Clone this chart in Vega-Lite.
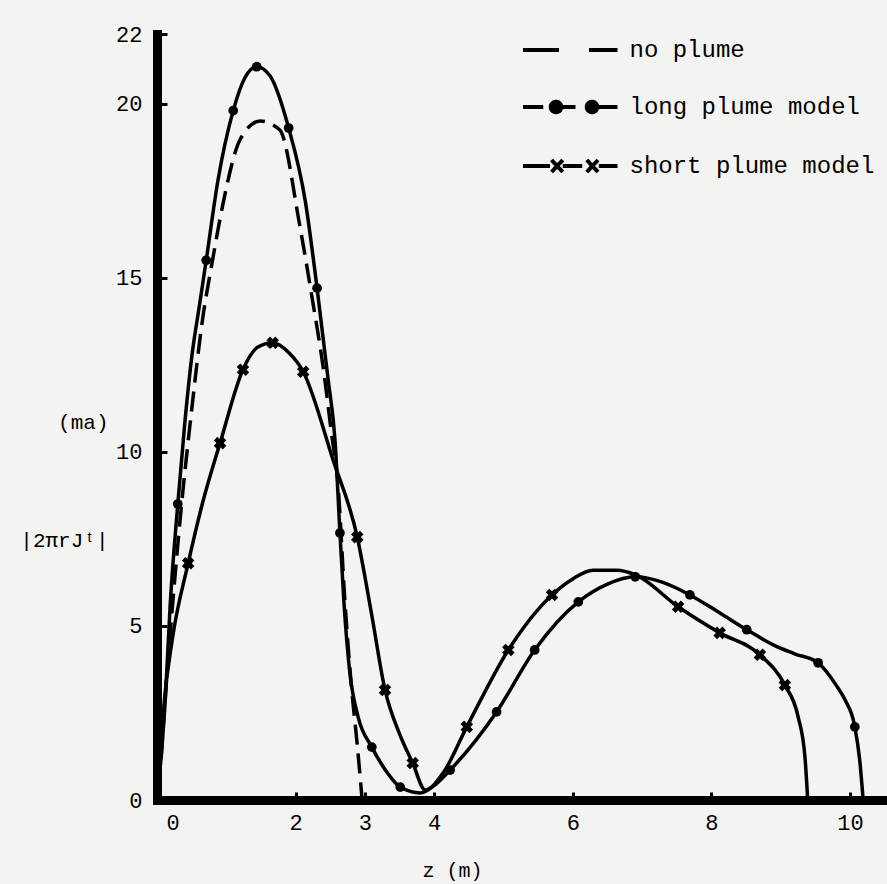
{
  "$schema": "https://vega.github.io/schema/vega-lite/v6.json",
  "width": 730,
  "height": 766,
  "autosize": {"type": "none"},
  "padding": {"left": 157, "top": 34, "right": 0, "bottom": 84},
  "background": "#f3f3f1",
  "config": {"view": {"stroke": null}, "font": "Liberation Mono"},
  "datasets": {
    "curves": [
      {"series": "no plume", "z": 0.06, "v": 1.2},
      {"series": "no plume", "z": 0.14, "v": 3.5},
      {"series": "no plume", "z": 0.25, "v": 6.2},
      {"series": "no plume", "z": 0.36, "v": 8.6},
      {"series": "no plume", "z": 0.5, "v": 11.2},
      {"series": "no plume", "z": 0.65, "v": 13.7},
      {"series": "no plume", "z": 0.81, "v": 15.6},
      {"series": "no plume", "z": 0.95, "v": 17.1},
      {"series": "no plume", "z": 1.2, "v": 18.97},
      {"series": "no plume", "z": 1.49, "v": 19.5},
      {"series": "no plume", "z": 1.77, "v": 19.25},
      {"series": "no plume", "z": 2.06, "v": 16.5},
      {"series": "no plume", "z": 2.24, "v": 14.4},
      {"series": "no plume", "z": 2.4, "v": 12.4},
      {"series": "no plume", "z": 2.52, "v": 10.5},
      {"series": "no plume", "z": 2.61, "v": 9.1},
      {"series": "no plume", "z": 2.71, "v": 5.75},
      {"series": "no plume", "z": 2.81, "v": 3.16},
      {"series": "no plume", "z": 2.89, "v": 1.58},
      {"series": "no plume", "z": 2.96, "v": 0},

      {"series": "long plume model", "z": 0.05, "v": 1.0},
      {"series": "long plume model", "z": 0.12, "v": 2.9},
      {"series": "long plume model", "z": 0.19, "v": 5.6},
      {"series": "long plume model", "z": 0.3, "v": 8.5},
      {"series": "long plume model", "z": 0.4, "v": 10.8},
      {"series": "long plume model", "z": 0.5, "v": 12.7},
      {"series": "long plume model", "z": 0.62, "v": 14.3},
      {"series": "long plume model", "z": 0.71, "v": 15.5},
      {"series": "long plume model", "z": 0.88, "v": 17.8},
      {"series": "long plume model", "z": 1.1, "v": 19.8},
      {"series": "long plume model", "z": 1.27, "v": 20.75},
      {"series": "long plume model", "z": 1.44, "v": 21.06},
      {"series": "long plume model", "z": 1.63, "v": 20.8},
      {"series": "long plume model", "z": 1.9, "v": 19.3},
      {"series": "long plume model", "z": 2.14, "v": 17.2},
      {"series": "long plume model", "z": 2.31, "v": 14.7},
      {"series": "long plume model", "z": 2.47, "v": 12.07},
      {"series": "long plume model", "z": 2.57, "v": 10.3},
      {"series": "long plume model", "z": 2.64, "v": 7.67},
      {"series": "long plume model", "z": 2.7, "v": 5.6},
      {"series": "long plume model", "z": 2.78, "v": 3.7},
      {"series": "long plume model", "z": 2.9, "v": 2.4},
      {"series": "long plume model", "z": 3.1, "v": 1.52},
      {"series": "long plume model", "z": 3.3, "v": 0.85},
      {"series": "long plume model", "z": 3.51, "v": 0.37},
      {"series": "long plume model", "z": 3.8, "v": 0.2},
      {"series": "long plume model", "z": 4.01, "v": 0.43},
      {"series": "long plume model", "z": 4.23, "v": 0.86},
      {"series": "long plume model", "z": 4.9, "v": 2.53},
      {"series": "long plume model", "z": 5.45, "v": 4.31},
      {"series": "long plume model", "z": 6.08, "v": 5.69},
      {"series": "long plume model", "z": 6.5, "v": 6.2},
      {"series": "long plume model", "z": 6.9, "v": 6.41},
      {"series": "long plume model", "z": 7.3, "v": 6.25},
      {"series": "long plume model", "z": 7.69, "v": 5.89},
      {"series": "long plume model", "z": 8.1, "v": 5.4},
      {"series": "long plume model", "z": 8.51, "v": 4.89},
      {"series": "long plume model", "z": 8.9, "v": 4.45},
      {"series": "long plume model", "z": 9.2, "v": 4.2},
      {"series": "long plume model", "z": 9.54, "v": 3.94},
      {"series": "long plume model", "z": 9.8, "v": 3.3},
      {"series": "long plume model", "z": 9.93, "v": 2.87},
      {"series": "long plume model", "z": 10.07, "v": 2.1},
      {"series": "long plume model", "z": 10.14, "v": 1.15},
      {"series": "long plume model", "z": 10.19, "v": 0},

      {"series": "short plume model", "z": 0.04, "v": 1.0},
      {"series": "short plume model", "z": 0.09, "v": 2.5},
      {"series": "short plume model", "z": 0.22, "v": 4.6},
      {"series": "short plume model", "z": 0.45, "v": 6.8},
      {"series": "short plume model", "z": 0.66, "v": 8.55},
      {"series": "short plume model", "z": 0.91, "v": 10.25},
      {"series": "short plume model", "z": 1.24, "v": 12.36},
      {"series": "short plume model", "z": 1.45, "v": 13.0},
      {"series": "short plume model", "z": 1.67, "v": 13.13},
      {"series": "short plume model", "z": 1.9, "v": 12.85},
      {"series": "short plume model", "z": 2.11, "v": 12.3},
      {"series": "short plume model", "z": 2.54, "v": 9.77},
      {"series": "short plume model", "z": 2.89, "v": 7.55},
      {"series": "short plume model", "z": 3.1, "v": 5.3},
      {"series": "short plume model", "z": 3.29, "v": 3.16},
      {"series": "short plume model", "z": 3.5, "v": 1.9},
      {"series": "short plume model", "z": 3.69, "v": 1.06},
      {"series": "short plume model", "z": 3.87, "v": 0.29},
      {"series": "short plume model", "z": 4.13, "v": 0.78},
      {"series": "short plume model", "z": 4.47, "v": 2.1},
      {"series": "short plume model", "z": 5.07, "v": 4.31},
      {"series": "short plume model", "z": 5.7, "v": 5.89},
      {"series": "short plume model", "z": 6.0, "v": 6.35},
      {"series": "short plume model", "z": 6.29, "v": 6.6},
      {"series": "short plume model", "z": 6.64, "v": 6.6},
      {"series": "short plume model", "z": 6.9, "v": 6.47},
      {"series": "short plume model", "z": 7.52, "v": 5.55},
      {"series": "short plume model", "z": 8.12, "v": 4.8},
      {"series": "short plume model", "z": 8.7, "v": 4.17},
      {"series": "short plume model", "z": 9.06, "v": 3.3},
      {"series": "short plume model", "z": 9.25, "v": 2.4},
      {"series": "short plume model", "z": 9.35, "v": 1.24},
      {"series": "short plume model", "z": 9.39, "v": 0}
    ],
    "markers": [
      {"series": "long plume model", "z": 0.3, "v": 8.5},
      {"series": "long plume model", "z": 0.71, "v": 15.5},
      {"series": "long plume model", "z": 1.1, "v": 19.8},
      {"series": "long plume model", "z": 1.44, "v": 21.06},
      {"series": "long plume model", "z": 1.9, "v": 19.3},
      {"series": "long plume model", "z": 2.31, "v": 14.7},
      {"series": "long plume model", "z": 2.64, "v": 7.67},
      {"series": "long plume model", "z": 3.1, "v": 1.52},
      {"series": "long plume model", "z": 3.51, "v": 0.37},
      {"series": "long plume model", "z": 4.23, "v": 0.86},
      {"series": "long plume model", "z": 4.9, "v": 2.53},
      {"series": "long plume model", "z": 5.45, "v": 4.31},
      {"series": "long plume model", "z": 6.08, "v": 5.69},
      {"series": "long plume model", "z": 6.9, "v": 6.41},
      {"series": "long plume model", "z": 7.69, "v": 5.89},
      {"series": "long plume model", "z": 8.51, "v": 4.89},
      {"series": "long plume model", "z": 9.54, "v": 3.94},
      {"series": "long plume model", "z": 10.07, "v": 2.1},
      {"series": "short plume model", "z": 0.45, "v": 6.8},
      {"series": "short plume model", "z": 0.91, "v": 10.25},
      {"series": "short plume model", "z": 1.24, "v": 12.36},
      {"series": "short plume model", "z": 1.67, "v": 13.13},
      {"series": "short plume model", "z": 2.11, "v": 12.3},
      {"series": "short plume model", "z": 2.89, "v": 7.55},
      {"series": "short plume model", "z": 3.29, "v": 3.16},
      {"series": "short plume model", "z": 3.69, "v": 1.06},
      {"series": "short plume model", "z": 4.47, "v": 2.1},
      {"series": "short plume model", "z": 5.07, "v": 4.31},
      {"series": "short plume model", "z": 5.7, "v": 5.89},
      {"series": "short plume model", "z": 7.52, "v": 5.55},
      {"series": "short plume model", "z": 8.12, "v": 4.8},
      {"series": "short plume model", "z": 8.7, "v": 4.17},
      {"series": "short plume model", "z": 9.06, "v": 3.3}
    ]
  },
  "encoding": {
    "x": {
      "field": "z", "type": "quantitative",
      "scale": {"domain": [0, 10.534], "nice": false, "zero": false},
      "axis": {
        "values": [0, 2, 3, 4, 6, 8, 10],
        "grid": false,
        "domainColor": "black", "domainWidth": 9, "domainCap": "square",
        "tickColor": "black", "tickWidth": 3, "tickSize": -8,
        "labelPadding": 20, "labelBaseline": "top",
        "labelFont": "Liberation Mono", "labelFontSize": 22, "labelColor": "black",
        "labelOffset": {"condition": {"test": "datum.value == 0", "value": 9}, "value": 0},
        "title": "z  (m)", "titleFont": "Liberation Mono", "titleFontSize": 20,
        "titleFontWeight": "normal", "titleColor": "black",
        "titleX": 295, "titleY": 70, "titleBaseline": "middle", "titleAlign": "center"
      }
    },
    "y": {
      "field": "v", "type": "quantitative",
      "scale": {"domain": [0, 22], "nice": false},
      "axis": {
        "values": [0, 5, 10, 15, 20, 22],
        "grid": false,
        "domainColor": "black", "domainWidth": 9, "domainCap": "square",
        "tickColor": "black", "tickWidth": 3, "tickSize": -10,
        "labelPadding": 25,
        "labelFont": "Liberation Mono", "labelFontSize": 22, "labelColor": "black",
        "title": ["(ma)", "|2πrJᵗ|"],
        "titleFont": "Liberation Mono", "titleFontSize": 21, "titleFontWeight": "normal",
        "titleColor": "black", "titleAngle": 0, "titleAlign": "right",
        "titleBaseline": "middle", "titleLineHeight": 118,
        "titleX": -49, "titleY": 388
      }
    },
    "color": {
      "field": "series", "type": "nominal",
      "scale": {
        "domain": ["no plume", "long plume model", "short plume model"],
        "range": ["black", "black", "black"]
      },
      "legend": {
        "orient": "none", "legendX": 395.5, "legendY": -1,
        "title": null, "padding": 0,
        "symbolSize": 900, "symbolStrokeWidth": 4, "symbolDash": [1, 0],
        "labelFont": "Liberation Mono", "labelFontSize": 24, "labelColor": "black",
        "labelOffset": 43, "rowPadding": 28, "labelLimit": 500,
        "encode": {
          "symbols": {
            "update": {
              "shape": {"signal": "datum.value === 'no plume' ? 'M-3.1,0H-0.7M1.3,0H3.2' : datum.value === 'long plume model' ? 'M-3.1,0H-1.75M-0.5,0H0.4M1.85,0H3.2M-1.25,0a0.35,0.35 0 1,0 0.7,0a0.35,0.35 0 1,0 -0.7,0M1.15,0a0.35,0.35 0 1,0 0.7,0a0.35,0.35 0 1,0 -0.7,0' : 'M-3.1,0H-1.3M-0.45,0H0.85M1.95,0H3.2M-1.2,-0.4L-0.45,0.4M-1.2,0.4L-0.45,-0.4M1.15,-0.4L1.9,0.4M1.15,0.4L1.9,-0.4'"},
              "fill": {"value": "black"},
              "stroke": {"value": "black"},
              "strokeWidth": {"value": 4},
              "strokeDash": {"value": [1, 0]}
            }
          }
        }
      }
    }
  },
  "layer": [
    {
      "data": {"name": "curves"},
      "transform": [{"filter": "datum.series === 'no plume'"}],
      "mark": {"type": "line", "interpolate": "monotone", "strokeWidth": 3.5, "strokeDash": [20, 9]}
    },
    {
      "data": {"name": "curves"},
      "transform": [{"filter": "datum.series !== 'no plume'"}],
      "mark": {"type": "line", "interpolate": "monotone", "strokeWidth": 3.5}
    },
    {
      "data": {"name": "markers"},
      "transform": [{"filter": "datum.series === 'long plume model'"}],
      "mark": {"type": "point", "shape": "circle", "filled": true, "color": "black", "size": 95, "opacity": 1},
      "encoding": {"color": {"value": "black"}}
    },
    {
      "data": {"name": "markers"},
      "transform": [{"filter": "datum.series === 'short plume model'"}],
      "mark": {"type": "point", "shape": "cross", "angle": 45, "filled": true, "color": "black", "size": 160, "opacity": 1},
      "encoding": {"color": {"value": "black"}}
    }
  ]
}
